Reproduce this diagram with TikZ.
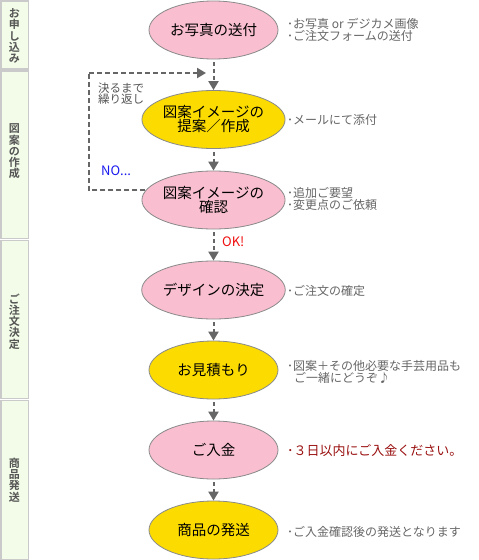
\documentclass[tikz,border=0pt]{standalone}
\usepackage{fontspec}
\setmainfont{Noto Sans CJK JP}
\newfontfamily\cjkb{Noto Sans CJK JP Bold}
\usetikzlibrary{shapes.geometric,arrows.meta}
\definecolor{pinkf}{HTML}{F9BFD0}
\definecolor{yelf}{HTML}{FCDC00}
\definecolor{edgec}{HTML}{8A8A8A}
\definecolor{arrc}{HTML}{666666}
\definecolor{sidef}{HTML}{F2FCE8}
\definecolor{sideb}{HTML}{CACACA}
\definecolor{sidet}{HTML}{555555}
\definecolor{notec}{HTML}{666666}
\definecolor{warnc}{HTML}{9A1010}
\definecolor{noc}{HTML}{1A1AF0}
\definecolor{okc}{HTML}{F01010}
\begin{document}
\begin{tikzpicture}[x=1pt,y=-1pt,
  stage/.style={ellipse,draw=edgec,line width=0.8pt,minimum width=129pt,minimum height=58pt,inner sep=0pt,align=center,text=black,font=\fontsize{14.5}{14}\selectfont},
  pinkst/.style={stage,fill=pinkf},
  yelst/.style={stage,fill=yelf},
  flow/.style={draw=arrc,line width=2pt,dash pattern=on 4pt off 3pt,-{Triangle[width=10pt,length=9pt]},shorten <=3pt},
  loopline/.style={draw=arrc,line width=2pt,dash pattern=on 5pt off 3pt},
  note/.style={anchor=west,align=left,inner sep=0pt,text=notec,font=\fontsize{12}{12}\selectfont},
  sidebox/.style={draw=sideb,fill=sidef,line width=1.5pt},
  sidelabel/.style={align=center,inner sep=0pt,text=sidet,font=\cjkb\fontsize{11}{11.2}\selectfont}
]
\useasboundingbox (0,0) rectangle (479,560);
\fill[white] (0,0) rectangle (479,560);

% side column
\draw[sidebox] (0.75,0.75) rectangle (28.5,69);
\draw[sidebox] (0.75,71) rectangle (28.5,238.5);
\draw[sidebox] (0.75,240.5) rectangle (28.5,398.5);
\draw[sidebox] (0.75,400.5) rectangle (28.5,559.25);
\node[sidelabel] (s1) at (14.5,36) {お\\申\\し\\込\\み};
\node[sidelabel] (s2) at (14.5,151.5) {図\\案\\の\\作\\成};
\node[sidelabel] (s3) at (14.5,321.5) {ご\\注\\文\\決\\定};
\node[sidelabel] (s4) at (14.5,480) {商\\品\\発\\送};

% stages
\node[pinkst] (e1) at (213.5,30) {お写真の送付};
\node[yelst]  (e2) at (213.5,119.5) {図案イメージの\\提案／作成};
\node[pinkst] (e3) at (213.5,200) {図案イメージの\\確認};
\node[pinkst] (e4) at (213.5,290) {デザインの決定};
\node[yelst]  (e5) at (213.5,370) {お見積もり};
\node[pinkst] (e6) at (213.5,450) {ご入金};
\node[yelst]  (e7) at (213.5,530) {商品の発送};

% arrows
\draw[flow] (e1) -- (e2);
\draw[flow] (e2) -- (e3);
\draw[flow] (e3) -- (e4);
\draw[flow] (e4) -- (e5);
\draw[flow] (e5) -- (e6);
\draw[flow] (e6) -- (e7);

% loop
\coordinate (lpA) at (89,73);
\coordinate (lpT) at (206,73);
\draw[loopline] (e3.172) -| (lpA);
\draw[loopline,-{Triangle[width=10pt,length=9pt]}] (lpA) -- (lpT);
\node[anchor=west,align=left,inner sep=0pt,text=sidet,font=\fontsize{11.5}{11}\selectfont] (rep) at (98,93.5) {決るまで\\繰り返し};
\node[anchor=west,inner sep=0pt,text=noc,font=\fontsize{13}{13}\selectfont] (no) at (101,171) {NO...};
\node[anchor=west,inner sep=0pt,text=okc,font=\fontsize{13}{13}\selectfont] (ok) at (222,242) {OK!};

% notes
\node[note] (n1) at (287,29.5) {･お写真 or デジカメ画像\\･ご注文フォームの送付};
\node[note] (n2) at (287,120) {･メールにて添付};
\node[note] (n3) at (287,199) {･追加ご要望\\･変更点のご依頼};
\node[note] (n4) at (287,291) {･ご注文の確定};
\node[note] (n5) at (287,372) {･図案＋その他必要な手芸用品も\\\hspace*{7pt}ご一緒にどうぞ♪};
\node[note,text=warnc,font=\fontsize{13}{13}\selectfont] (n6) at (287,451) {･３日以内にご入金ください。};
\node[note] (n7) at (287,532) {･ご入金確認後の発送となります};
\end{tikzpicture}
\end{document}
